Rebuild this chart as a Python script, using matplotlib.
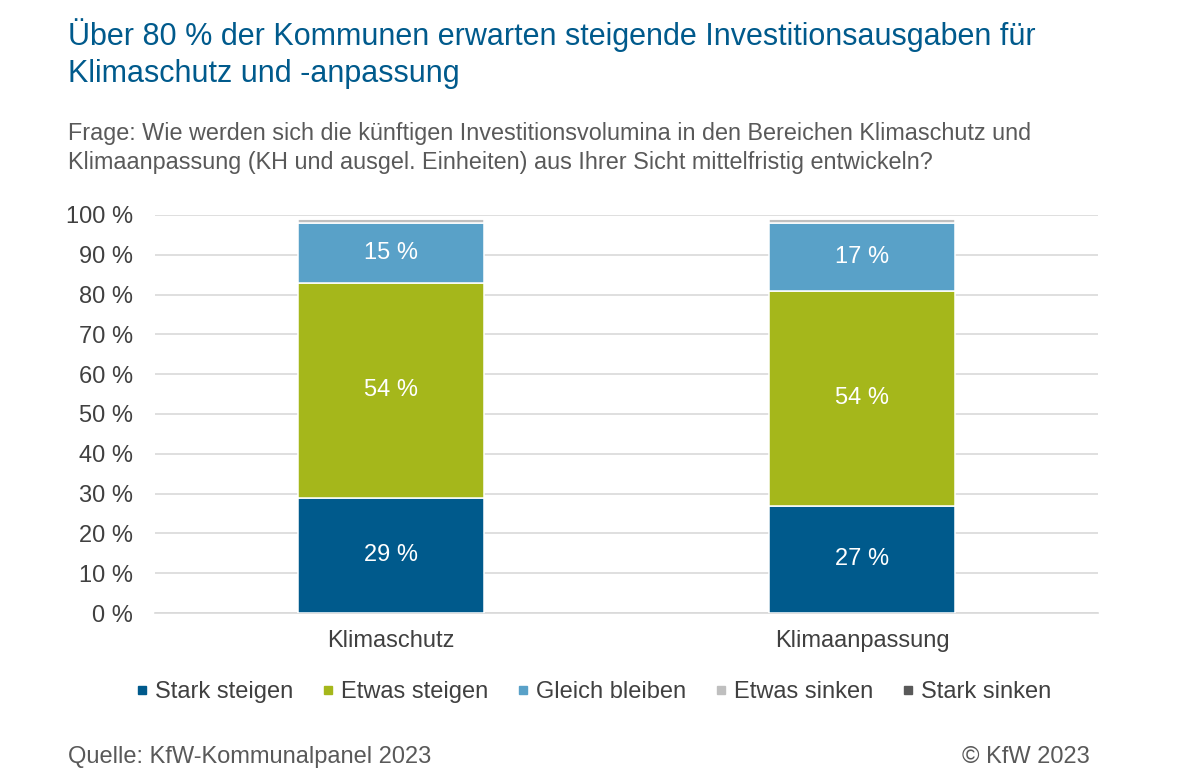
import matplotlib
matplotlib.use("Agg")
import matplotlib.pyplot as plt
from matplotlib.lines import Line2D

plt.rcParams['font.family'] = ['Liberation Sans', 'DejaVu Sans']

# Data
categories = ["Klimaschutz", "Klimaanpassung"]
series = ["Stark steigen", "Etwas steigen", "Gleich bleiben", "Etwas sinken", "Stark sinken"]
stark_steigen = [29, 27]
etwas_steigen = [54, 54]
gleich_bleiben = [15, 17]
etwas_sinken = [1, 1]
stark_sinken = [0, 0]
colors = ["#005A8C", "#A5B71B", "#59A1C8", "#BFBFBF", "#595959"]

title = "Über 80 % der Kommunen erwarten steigende Investitionsausgaben für\nKlimaschutz und -anpassung"
subtitle = ("Frage: Wie werden sich die künftigen Investitionsvolumina in den Bereichen Klimaschutz und\n"
            "Klimaanpassung (KH und ausgel. Einheiten) aus Ihrer Sicht mittelfristig entwickeln?")

fig = plt.figure(figsize=(12, 7.81), dpi=100)
ax = fig.add_axes([155 / 1200, 1 - 613 / 781, (1098 - 155) / 1200, (613 - 215) / 781])

x = list(range(len(categories)))
bottom = [0, 0]
all_vals = [stark_steigen, etwas_steigen, gleich_bleiben, etwas_sinken, stark_sinken]
for name, vals, col in zip(series, all_vals, colors):
    ax.bar(x, vals, width=0.395, bottom=bottom, color=col, edgecolor="white",
           linewidth=1.1, zorder=3)
    if vals[0] >= 5:
        for xi, b, v in zip(x, bottom, vals):
            ax.text(xi, b + v / 2, f"{v} %", ha="center", va="center", color="white",
                    fontsize=17, zorder=4)
    bottom = [b + v for b, v in zip(bottom, vals)]

ax.set_xlim(-0.5, 1.5)
ax.set_ylim(0, 100)
ax.set_yticks(range(0, 101, 10))
ax.set_yticklabels([f"{t} %" for t in range(0, 101, 10)])
ax.set_xticks(x)
ax.set_xticklabels(categories)
ax.tick_params(axis="both", length=0, labelsize=17, colors="#404040")
ax.tick_params(axis="y", pad=16)
ax.tick_params(axis="x", pad=12)
ax.grid(axis="y", color="#D9D9D9", linewidth=1.2, zorder=0)
ax.set_axisbelow(True)
for s in ["top", "right", "left"]:
    ax.spines[s].set_visible(False)
ax.spines["bottom"].set_color("#D9D9D9")
ax.spines["bottom"].set_linewidth(1.2)

handles = [Line2D([], [], marker="s", linestyle="none", markersize=6, color=c) for c in colors]
fig.legend(handles, series, loc="center", bbox_to_anchor=(0.494, 1 - 692 / 781), ncol=5,
           frameon=False, fontsize=17, handletextpad=0.2, columnspacing=1.12,
           labelcolor="#404040", handlelength=0.7)

fig.text(68 / 1200, 1 - 18 / 781, title, ha="left", va="top", fontsize=22,
         color="#005A8C", linespacing=1.3)
fig.text(68 / 1200, 1 - 122 / 781, subtitle, ha="left", va="top", fontsize=16.8,
         color="#595959", linespacing=1.33)
fig.text(68 / 1200, 1 - 757 / 781, "Quelle: KfW-Kommunalpanel 2023", ha="left", va="center",
         fontsize=17, color="#595959")
fig.text(1090 / 1200, 1 - 757 / 781, "© KfW 2023", ha="right", va="center",
         fontsize=17, color="#595959")

fig.savefig("out.png", dpi=100)
